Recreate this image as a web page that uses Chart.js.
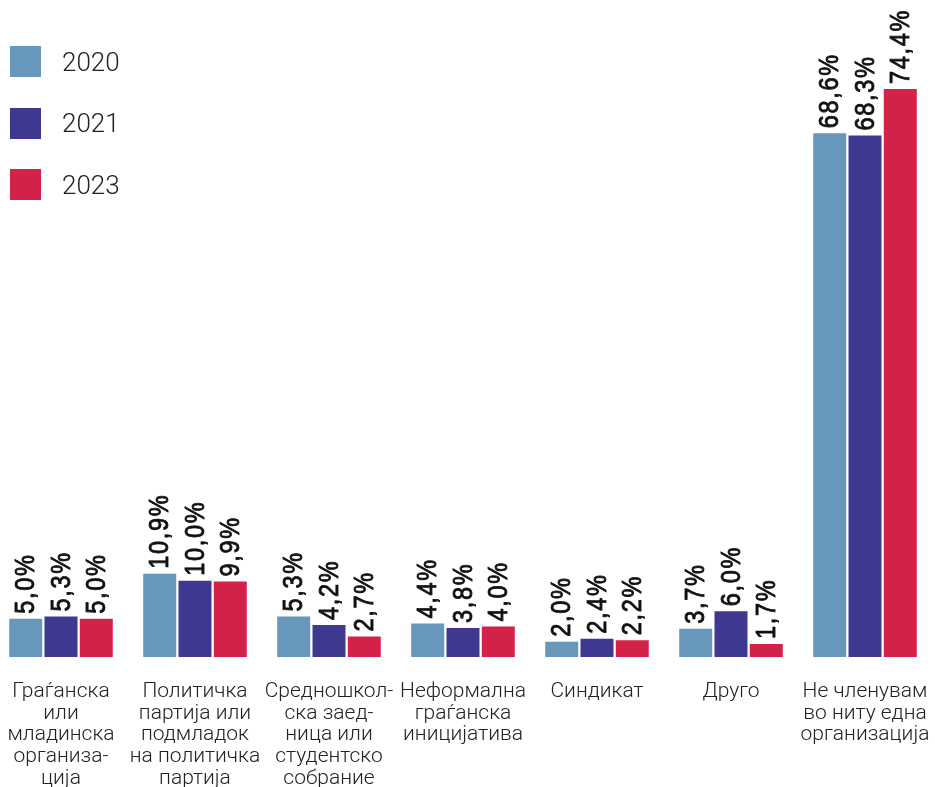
<!DOCTYPE html>
<html>
<head>
<meta charset="utf-8">
<script src="https://cdn.jsdelivr.net/npm/chart.js@4"></script>
<style>
  html, body { margin: 0; padding: 0; background: #fff; }
  #wrap { position: relative; width: 935px; height: 787px; overflow: hidden; }
  #chart { position: absolute; left: -6px; top: 0; }
  #legend { position: absolute; left: 10px; top: 46px; font-family: Roboto, sans-serif; font-weight: 300; font-size: 26px; color: #222; }
  .item { display: flex; align-items: center; height: 31px; margin-bottom: 30.5px; }
  .box { width: 31px; height: 31px; margin-right: 21px; }
</style>
</head>
<body>
<div id="wrap">
  <canvas id="chart" width="938" height="787"></canvas>
  <div id="legend"></div>
</div>
<script>
// categories (multi-line labels as in the original)
const categories = [
  ['Граѓанска', 'или', 'младинска', 'организа-', 'ција'],
  ['Политичка', 'партија или', 'подмладок', 'на политичка', 'партија'],
  ['Средношкол-', 'ска заед-', 'ница или', 'студентско', 'собрание'],
  ['Неформална', 'граѓанска', 'иницијатива'],
  ['Синдикат'],
  ['Друго'],
  ['Не членувам', 'во ниту една', 'организација']
];
const years = ['2020', '2021', '2023'];
const values2020 = [5.0, 10.9, 5.3, 4.4, 2.0, 3.7, 68.6];
const values2021 = [5.3, 10.0, 4.2, 3.8, 2.4, 6.0, 68.3];
const values2023 = [5.0, 9.9, 2.7, 4.0, 2.2, 1.7, 74.4];
const seriesColors = ['#6797BA', '#3F3891', '#D42149'];

function fmt(v) {
  return v.toFixed(1).replace('.', ',') + '%';
}

// rotated value labels above each bar (squeezed to look condensed)
const barLabels = {
  id: 'barLabels',
  afterDatasetsDraw(chart) {
    const ctx = chart.ctx;
    ctx.save();
    ctx.fillStyle = '#111';
    ctx.strokeStyle = '#111';
    ctx.lineWidth = 0.9;
    ctx.font = '28px "Liberation Sans", sans-serif';
    ctx.letterSpacing = '2px';
    ctx.textAlign = 'left';
    ctx.textBaseline = 'middle';
    chart.data.datasets.forEach((ds, i) => {
      chart.getDatasetMeta(i).data.forEach((bar, j) => {
        const txt = fmt(ds.data[j]);
        ctx.save();
        ctx.translate(bar.x + 1, bar.y - 5);
        ctx.rotate(-Math.PI / 2);
        ctx.scale(0.84, 1);
        ctx.fillText(txt, 0, 0);
        ctx.strokeText(txt, 0, 0);
        ctx.restore();
      });
    });
    ctx.restore();
  }
};

const seriesValues = [values2020, values2021, values2023];

new Chart(document.getElementById('chart'), {
  type: 'bar',
  data: {
    labels: categories,
    datasets: years.map((y, i) => ({
      label: y,
      data: seriesValues[i],
      backgroundColor: seriesColors[i],
      categoryPercentage: 0.79,
      barPercentage: 0.935
    }))
  },
  options: {
    responsive: false,
    animation: false,
    layout: { padding: 0 },
    plugins: {
      legend: { display: false },
      tooltip: { enabled: false }
    },
    scales: {
      x: {
        grid: { display: false, drawTicks: false },
        border: { display: false },
        ticks: {
          padding: 24,
          color: '#222',
          font: { family: 'Roboto, sans-serif', size: 21, weight: 300, lineHeight: 1.03 },
          maxRotation: 0,
          autoSkip: false
        },
        afterFit(scale) {
          scale.height = 130;
          scale.paddingLeft = 0;
          scale.paddingRight = 0;
        }
      },
      y: {
        display: false,
        min: 0,
        max: 86.06
      }
    }
  },
  plugins: [barLabels]
});

// legend
const legend = document.getElementById('legend');
years.forEach((y, i) => {
  const item = document.createElement('div');
  item.className = 'item';
  item.innerHTML = '<div class="box" style="background:' + seriesColors[i] + '"></div><span>' + y + '</span>';
  legend.appendChild(item);
});
</script>
</body>
</html>
